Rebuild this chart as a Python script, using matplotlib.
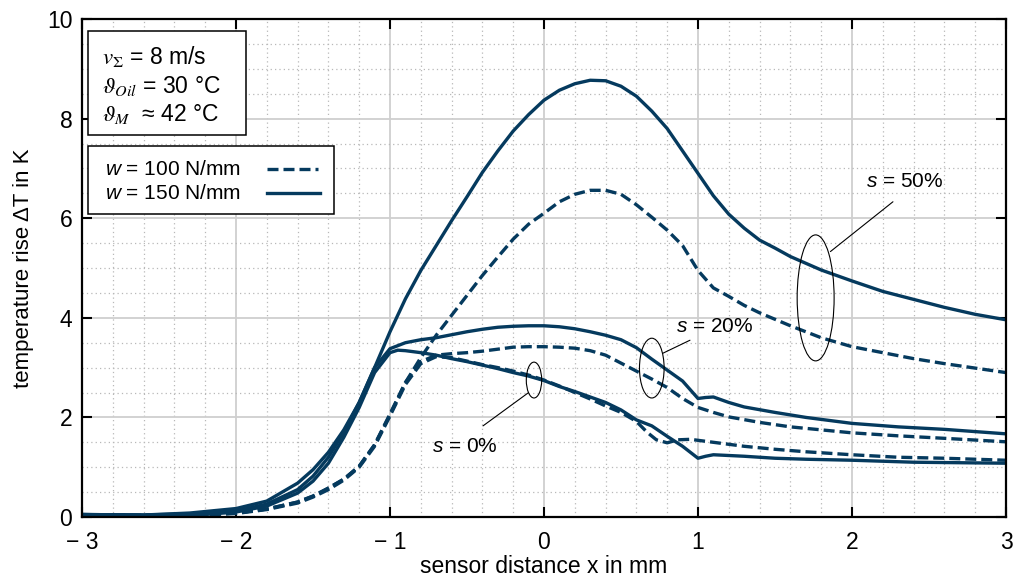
import numpy as np
import matplotlib
matplotlib.use("Agg")
import matplotlib.pyplot as plt
from matplotlib.lines import Line2D
from matplotlib.patches import Ellipse, Rectangle

plt.rcParams['font.family'] = ['Liberation Sans', 'DejaVu Sans']
plt.rcParams['mathtext.fontset'] = 'custom'
plt.rcParams['mathtext.rm'] = 'Liberation Sans'
plt.rcParams['mathtext.it'] = 'Liberation Sans:italic'
plt.rcParams['mathtext.bf'] = 'Liberation Sans:bold'
plt.rcParams['mathtext.sf'] = 'Liberation Sans'

navy = '#053a5e'

# s = 50 %
x_s50_150 = [-3.0, -2.6, -2.3, -2.0, -1.8, -1.6, -1.5, -1.4, -1.3, -1.2, -1.1, -1.0, -0.9, -0.8, -0.7,
             -0.6, -0.5, -0.4, -0.3, -0.2, -0.1, 0.0, 0.1, 0.2, 0.3, 0.4, 0.5, 0.6, 0.7, 0.8, 0.9,
             1.0, 1.1, 1.2, 1.3, 1.4, 1.5, 1.6, 1.8, 2.0, 2.2, 2.4, 2.6, 2.8, 3.0]
y_s50_150 = [0.05, 0.04, 0.08, 0.17, 0.32, 0.68, 0.95, 1.3, 1.75, 2.3, 3.0, 3.72, 4.38, 4.95, 5.45,
             5.95, 6.43, 6.92, 7.35, 7.75, 8.08, 8.37, 8.57, 8.7, 8.77, 8.76, 8.65, 8.45, 8.15, 7.8, 7.35,
             6.9, 6.45, 6.08, 5.8, 5.56, 5.4, 5.23, 4.96, 4.74, 4.53, 4.37, 4.21, 4.07, 3.96]
x_s50_100 = [-3.0, -2.6, -2.2, -2.0, -1.8, -1.6, -1.5, -1.4, -1.3, -1.2, -1.1, -1.0, -0.9, -0.8, -0.7,
             -0.6, -0.5, -0.4, -0.3, -0.2, -0.1, 0.0, 0.1, 0.2, 0.3, 0.4, 0.5, 0.6, 0.7, 0.8, 0.9,
             1.0, 1.1, 1.2, 1.3, 1.4, 1.6, 1.8, 2.0, 2.2, 2.4, 2.6, 2.8, 3.0]
y_s50_100 = [0.04, 0.03, 0.05, 0.08, 0.16, 0.3, 0.42, 0.58, 0.76, 1.02, 1.45, 2.05, 2.7, 3.2, 3.65,
             4.05, 4.45, 4.85, 5.22, 5.58, 5.88, 6.1, 6.33, 6.48, 6.56, 6.56, 6.48, 6.27, 6.02, 5.76, 5.45,
             4.95, 4.6, 4.43, 4.25, 4.1, 3.84, 3.6, 3.42, 3.3, 3.18, 3.08, 2.99, 2.9]

# s = 20 %
x_s20_150 = [-3.0, -2.6, -2.2, -2.0, -1.8, -1.6, -1.5, -1.4, -1.3, -1.2, -1.1, -1.0, -0.9, -0.8, -0.7,
             -0.6, -0.5, -0.4, -0.3, -0.2, -0.1, 0.0, 0.1, 0.2, 0.3, 0.4, 0.5, 0.6, 0.7, 0.8, 0.9,
             1.0, 1.05, 1.1, 1.2, 1.3, 1.5, 1.7, 2.0, 2.3, 2.6, 3.0]
y_s20_150 = [0.05, 0.04, 0.07, 0.12, 0.26, 0.55, 0.82, 1.2, 1.7, 2.3, 3.0, 3.38, 3.5, 3.56, 3.6,
             3.66, 3.72, 3.77, 3.81, 3.83, 3.84, 3.84, 3.82, 3.78, 3.72, 3.65, 3.56, 3.4, 3.17, 2.95, 2.73,
             2.38, 2.4, 2.41, 2.3, 2.21, 2.1, 2.0, 1.88, 1.81, 1.76, 1.67]
x_s20_100 = [-3.0, -2.6, -2.2, -2.0, -1.8, -1.6, -1.5, -1.4, -1.3, -1.2, -1.1, -1.0, -0.9, -0.8, -0.7,
             -0.6, -0.5, -0.4, -0.3, -0.2, -0.1, 0.0, 0.1, 0.2, 0.3, 0.4, 0.5, 0.6, 0.7, 0.8, 0.9,
             1.0, 1.1, 1.2, 1.4, 1.6, 1.8, 2.0, 2.3, 2.6, 3.0]
y_s20_100 = [0.04, 0.03, 0.05, 0.08, 0.16, 0.3, 0.42, 0.58, 0.76, 1.02, 1.45, 2.07, 2.7, 3.12, 3.25,
             3.28, 3.3, 3.33, 3.37, 3.41, 3.42, 3.42, 3.41, 3.39, 3.34, 3.25, 3.09, 2.93, 2.77, 2.6, 2.38,
             2.2, 2.1, 2.01, 1.9, 1.81, 1.75, 1.69, 1.63, 1.58, 1.51]

# s = 0 %
x_s0_150 = [-3.0, -2.6, -2.2, -2.0, -1.8, -1.6, -1.5, -1.4, -1.3, -1.2, -1.1, -1.0, -0.95, -0.9, -0.8,
            -0.7, -0.6, -0.5, -0.4, -0.3, -0.2, -0.1, 0.0, 0.1, 0.2, 0.3, 0.4, 0.5, 0.6, 0.7, 0.8,
            0.9, 1.0, 1.05, 1.1, 1.3, 1.5, 1.7, 2.0, 2.4, 2.7, 3.0]
y_s0_150 = [0.05, 0.03, 0.05, 0.1, 0.22, 0.48, 0.72, 1.08, 1.6, 2.2, 2.9, 3.3, 3.35, 3.34, 3.3,
            3.25, 3.18, 3.12, 3.05, 2.98, 2.9, 2.83, 2.74, 2.62, 2.52, 2.41, 2.3, 2.15, 1.95, 1.83, 1.62,
            1.42, 1.18, 1.22, 1.25, 1.22, 1.18, 1.16, 1.14, 1.1, 1.09, 1.08]
x_s0_100 = [-3.0, -2.6, -2.2, -2.0, -1.8, -1.6, -1.5, -1.4, -1.3, -1.2, -1.1, -1.0, -0.9, -0.8, -0.7,
            -0.6, -0.5, -0.4, -0.3, -0.2, -0.1, 0.0, 0.1, 0.2, 0.3, 0.4, 0.5, 0.6, 0.67, 0.73, 0.8,
            0.87, 0.95, 1.1, 1.3, 1.5, 1.7, 2.0, 2.3, 2.6, 3.0]
y_s0_100 = [0.04, 0.03, 0.04, 0.07, 0.15, 0.28, 0.4, 0.55, 0.74, 1.0, 1.42, 2.03, 2.66, 3.08, 3.22,
            3.2, 3.13, 3.06, 3.0, 2.93, 2.85, 2.75, 2.63, 2.5, 2.37, 2.23, 2.1, 1.92, 1.7, 1.55, 1.49,
            1.55, 1.56, 1.5, 1.42, 1.36, 1.31, 1.25, 1.2, 1.18, 1.14]

xticks = [-3, -2, -1, 0, 1, 2, 3]
xticklabels = ['\u2212 3', '\u2212 2', '\u2212 1', '0', '1', '2', '3']
yticks = [0, 2, 4, 6, 8, 10]

fig = plt.figure(figsize=(10.24, 5.83), dpi=100)
ax = fig.add_axes([0.0801, 0.1132, 0.9023, 0.8542])

dash = (0, (3.3, 1.5))
lw = 2.4
ax.plot(x_s50_150, y_s50_150, color=navy, lw=lw, solid_joinstyle='round', zorder=2)
ax.plot(x_s50_100, y_s50_100, color=navy, lw=lw, ls=dash, zorder=2)
ax.plot(x_s20_150, y_s20_150, color=navy, lw=lw, solid_joinstyle='round', zorder=2)
ax.plot(x_s20_100, y_s20_100, color=navy, lw=lw, ls=dash, zorder=2)
ax.plot(x_s0_150, y_s0_150, color=navy, lw=lw, solid_joinstyle='round', zorder=2)
ax.plot(x_s0_100, y_s0_100, color=navy, lw=lw, ls=dash, zorder=2)

ax.set_xlim(-3, 3)
ax.set_ylim(0, 10)
ax.set_xticks(xticks)
ax.set_xticklabels(xticklabels)
ax.set_yticks(yticks)
ax.set_xticks(np.arange(-3, 3.01, 0.2), minor=True)
ax.set_yticks(np.arange(0, 10.01, 0.5), minor=True)
ax.set_axisbelow(True)
ax.grid(which='major', color='#cfcfcf', lw=1.3, ls='-')
ax.grid(which='minor', color='#b8b8b8', lw=0.9, ls=(0, (1, 2.5)))
ax.tick_params(which='major', direction='in', length=7, width=1.5, top=True, right=True,
               labelsize=16.5)
ax.tick_params(axis='x', pad=10)
ax.tick_params(axis='y', pad=7)
ax.tick_params(which='minor', length=0)
for sp in ax.spines.values():
    sp.set_linewidth(1.6)

ax.set_xlabel('sensor distance x in mm', fontsize=16.5, labelpad=1)
ax.set_ylabel('temperature rise \u0394T in K', fontsize=16, labelpad=9)

# parameter box
ax.add_patch(Rectangle((0.0065, 0.767), 0.171, 0.209, transform=ax.transAxes,
                       facecolor='white', edgecolor='black', lw=1.1, zorder=4))
box_kw = dict(transform=ax.transAxes, fontsize=16.5, math_fontfamily='stix',
              va='baseline', zorder=5)
ax.text(0.0216, 0.910, r'$v_{\Sigma}$ = 8 m/s', **box_kw)
ax.text(0.0216, 0.851, r'$\vartheta_{Oil}$ = 30 °C', **box_kw)
ax.text(0.0216, 0.795, r'$\vartheta_{M}$  ≈ 42 °C', **box_kw)

# load legend box
ax.add_patch(Rectangle((0.0065, 0.6084), 0.2662, 0.1365, transform=ax.transAxes,
                       facecolor='white', edgecolor='black', lw=1.1, zorder=4))
ax.text(0.0249, 0.6867, r'$w$ = 100 N/mm', transform=ax.transAxes, fontsize=15,
        va='baseline', zorder=5)
ax.text(0.0249, 0.6376, r'$w$ = 150 N/mm', transform=ax.transAxes, fontsize=15,
        va='baseline', zorder=5)
ax.add_line(Line2D([0.2002, 0.2554], [0.6988, 0.6988], transform=ax.transAxes,
                   color=navy, lw=lw, ls=dash, zorder=5))
ax.add_line(Line2D([0.2002, 0.2576], [0.6506, 0.6506], transform=ax.transAxes,
                   color=navy, lw=lw, zorder=5))

# slip annotations
ell = [(1.764, 4.40, 0.24, 2.53), (0.70, 2.99, 0.16, 1.2), (-0.065, 2.75, 0.10, 0.72)]
for cx, cy, w, h in ell:
    ax.add_patch(Ellipse((cx, cy), w, h, facecolor='none', edgecolor='black', lw=0.8, zorder=3))
line_kw = dict(arrowstyle='-', lw=0.8, color='black', shrinkA=0, shrinkB=0)
ax.annotate('', xy=(1.860, 5.33), xytext=(2.266, 6.33), arrowprops=line_kw)
ax.annotate('', xy=(0.773, 3.29), xytext=(0.948, 3.55), arrowprops=line_kw)
ax.annotate('', xy=(-0.104, 2.49), xytext=(-0.396, 1.83), arrowprops=line_kw)
ax.text(2.344, 6.73, r'$s$ = 50%', fontsize=15, ha='center', va='center')
ax.text(1.11, 3.82, r'$s$ = 20%', fontsize=15, ha='center', va='center')
ax.text(-0.513, 1.41, r'$s$ = 0%', fontsize=15, ha='center', va='center')

fig.savefig('out.png', dpi=100)
